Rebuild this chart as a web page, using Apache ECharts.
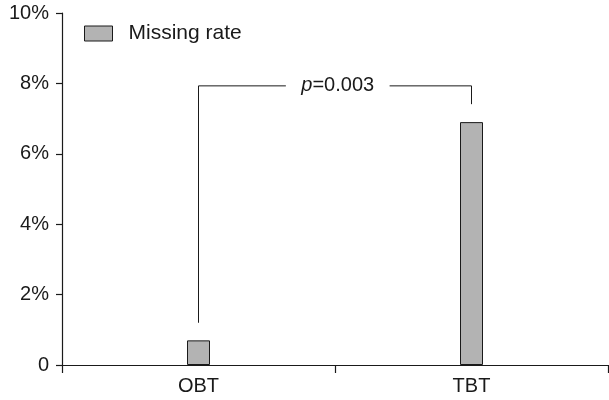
<!DOCTYPE html>
<html><head><meta charset="utf-8">
<script src="https://cdn.jsdelivr.net/npm/echarts@6/dist/echarts.min.js"></script>
<style>html,body{margin:0;padding:0;background:#fff}#c{width:609px;height:400px}</style>
</head><body><div id="c"></div>
<script>
const categories = ['OBT', 'TBT'];
const missingRate = [0.7, 6.9];
const yTicks = [0, 2, 4, 6, 8, 10];
const seriesName = 'Missing rate';
// significance bracket (x: 0 = OBT, 1 = TBT; y in %)
const bracketLeft = [[0, 1.2], [0, 7.93], [0.32, 7.93]];
const bracketRight = [[0.70, 7.93], [1, 7.93], [1, 7.41]];
const pLabelPos = [[0.51, 7.93]];

const font = 'Liberation Sans, Arial, sans-serif';
const ink = '#1a1a1a';
const chart = echarts.init(document.getElementById('c'));
chart.setOption({
  animation: false,
  textStyle: { fontFamily: font },
  grid: { left: 62, right: 1, top: 13, bottom: 35 },
  legend: {
    data: [{ name: seriesName, icon: 'rect' }], left: 84, top: 23, padding: 0,
    itemWidth: 28, itemHeight: 15,
    textStyle: { fontSize: 21, color: ink, fontFamily: font, padding: [0, 0, 0, 11] },
    itemStyle: { color: '#b3b3b3', borderColor: ink, borderWidth: 1 }
  },
  xAxis: [{
    type: 'category', data: categories,
    axisLine: { lineStyle: { color: ink, width: 1.2 } },
    axisTick: { show: true, interval: 0, length: 8, lineStyle: { color: ink, width: 1.2 } },
    axisLabel: { fontSize: 20, color: ink, margin: 11 }
  }, {
    type: 'value', min: -0.5, max: 1.5, show: false
  }],
  yAxis: {
    type: 'value', min: 0, max: 10, interval: 2,
    axisLine: { show: true, onZero: false, lineStyle: { color: ink, width: 1.2 } },
    axisTick: { show: true, length: 6, lineStyle: { color: ink, width: 1.2 } },
    splitLine: { show: false },
    axisLabel: { fontSize: 20, color: ink, margin: 13,
      formatter: v => yTicks.indexOf(v) >= 0 ? (v === 0 ? '0' : v + '%') : '' }
  },
  series: [{
    name: seriesName, type: 'bar', data: missingRate, barWidth: 23,
    itemStyle: { color: '#b3b3b3', borderColor: ink, borderWidth: 1 }
  }, {
    type: 'line', xAxisIndex: 1, data: bracketLeft, symbol: 'none',
    lineStyle: { color: ink, width: 1 }, silent: true
  }, {
    type: 'line', xAxisIndex: 1, data: bracketRight, symbol: 'none',
    lineStyle: { color: ink, width: 1 }, silent: true
  }, {
    type: 'scatter', xAxisIndex: 1, data: pLabelPos, symbolSize: 0,
    itemStyle: { opacity: 1 },
    label: { show: true, position: 'inside', formatter: '{i|p}=0.003',
      fontSize: 20, color: ink, fontFamily: font,
      rich: { i: { fontStyle: 'italic', fontSize: 20, color: ink, fontFamily: font } } }
  }]
});
</script></body></html>
